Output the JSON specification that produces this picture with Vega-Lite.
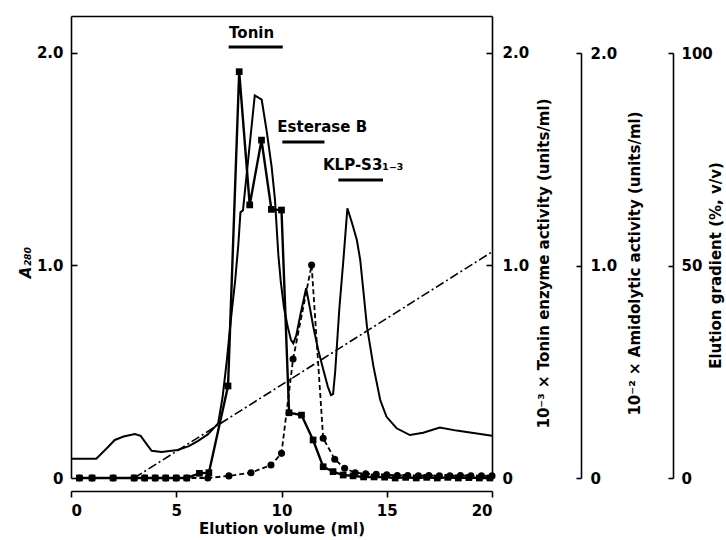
{
  "$schema": "https://vega.github.io/schema/vega-lite/v6.json",
  "width": 421,
  "height": 462,
  "autosize": "none",
  "padding": {"left": 71, "top": 16, "right": 234, "bottom": 62},
  "background": "white",
  "config": {
    "view": {"stroke": null},
    "font": "DejaVu Sans",
    "axis": {
      "grid": false,
      "domainColor": "black",
      "domainWidth": 1.6,
      "tickColor": "black",
      "tickWidth": 1.6,
      "labelColor": "black",
      "titleColor": "black",
      "labelFont": "DejaVu Sans",
      "titleFont": "DejaVu Sans",
      "labelFontSize": 15,
      "titleFontSize": 15,
      "labelFontWeight": "bold",
      "titleFontWeight": "bold"
    }
  },
  "datasets": {
    "a280": [
      {"v": 0, "a": 0.091}, {"v": 1.2, "a": 0.091}, {"v": 1.45, "a": 0.115}, {"v": 1.76, "a": 0.146},
      {"v": 2.08, "a": 0.179}, {"v": 2.5, "a": 0.195}, {"v": 3.03, "a": 0.207}, {"v": 3.31, "a": 0.198},
      {"v": 3.55, "a": 0.165}, {"v": 3.83, "a": 0.128}, {"v": 4.3, "a": 0.122}, {"v": 5.07, "a": 0.132},
      {"v": 5.6, "a": 0.15}, {"v": 6.02, "a": 0.174}, {"v": 6.5, "a": 0.205}, {"v": 6.99, "a": 0.257},
      {"v": 7.2, "a": 0.38}, {"v": 7.4, "a": 0.55}, {"v": 7.6, "a": 0.75}, {"v": 7.8, "a": 0.93},
      {"v": 7.95, "a": 1.1}, {"v": 8.05, "a": 1.25}, {"v": 8.17, "a": 1.26}, {"v": 8.45, "a": 1.53},
      {"v": 8.73, "a": 1.8}, {"v": 9.06, "a": 1.78}, {"v": 9.3, "a": 1.63}, {"v": 9.53, "a": 1.465},
      {"v": 9.69, "a": 1.31}, {"v": 9.85, "a": 1.05}, {"v": 9.97, "a": 0.92}, {"v": 10.12, "a": 0.8},
      {"v": 10.3, "a": 0.71}, {"v": 10.45, "a": 0.65}, {"v": 10.56, "a": 0.634}, {"v": 10.7, "a": 0.67},
      {"v": 10.9, "a": 0.77}, {"v": 11.17, "a": 0.893},
      {"v": 11.35, "a": 0.8}, {"v": 11.51, "a": 0.712}, {"v": 11.75, "a": 0.6}, {"v": 11.99, "a": 0.508},
      {"v": 12.2, "a": 0.43}, {"v": 12.35, "a": 0.39}, {"v": 12.45, "a": 0.395}, {"v": 12.55, "a": 0.5},
      {"v": 12.75, "a": 0.8}, {"v": 12.94, "a": 1.026}, {"v": 13.13, "a": 1.269}, {"v": 13.35, "a": 1.2},
      {"v": 13.58, "a": 1.12}, {"v": 13.74, "a": 1.026}, {"v": 13.9, "a": 0.87}, {"v": 14.06, "a": 0.712},
      {"v": 14.37, "a": 0.524}, {"v": 14.69, "a": 0.367}, {"v": 14.99, "a": 0.288}, {"v": 15.47, "a": 0.234},
      {"v": 16.1, "a": 0.202}, {"v": 16.73, "a": 0.213}, {"v": 17.52, "a": 0.237}, {"v": 18.32, "a": 0.223},
      {"v": 20, "a": 0.199}
    ],
    "tonin": [
      {"v": 0.4, "t": 0}, {"v": 1.0, "t": 0}, {"v": 2.0, "t": 0}, {"v": 3.0, "t": 0}, {"v": 3.5, "t": 0},
      {"v": 4.0, "t": 0}, {"v": 4.5, "t": 0}, {"v": 5.0, "t": 0}, {"v": 5.5, "t": 0}, {"v": 6.1, "t": 0.022},
      {"v": 6.55, "t": 0.025}, {"v": 7.46, "t": 0.433}, {"v": 7.99, "t": 1.912}, {"v": 8.49, "t": 1.285},
      {"v": 9.05, "t": 1.59}, {"v": 9.52, "t": 1.264}, {"v": 10.0, "t": 1.261}, {"v": 10.36, "t": 0.307},
      {"v": 10.95, "t": 0.296}, {"v": 11.5, "t": 0.179}, {"v": 11.98, "t": 0.053}, {"v": 12.45, "t": 0.03},
      {"v": 12.93, "t": 0.014}, {"v": 13.4, "t": 0.01}, {"v": 13.9, "t": 0.005}, {"v": 14.4, "t": 0.005},
      {"v": 14.9, "t": 0.004}, {"v": 15.4, "t": 0.0}, {"v": 15.9, "t": 0.003}, {"v": 16.4, "t": 0.0},
      {"v": 16.9, "t": 0.003}, {"v": 17.4, "t": 0.0}, {"v": 17.9, "t": 0.003}, {"v": 18.4, "t": 0.0},
      {"v": 18.9, "t": 0.002}, {"v": 19.4, "t": 0.0}, {"v": 19.9, "t": 0.0}
    ],
    "amido": [
      {"v": 0.4, "m": 0}, {"v": 1.0, "m": 0}, {"v": 2.0, "m": 0}, {"v": 3.0, "m": 0}, {"v": 3.5, "m": 0},
      {"v": 4.0, "m": 0}, {"v": 4.5, "m": 0}, {"v": 5.0, "m": 0}, {"v": 5.5, "m": 0}, {"v": 6.5, "m": 0},
      {"v": 7.5, "m": 0.01}, {"v": 8.55, "m": 0.025}, {"v": 9.5, "m": 0.061}, {"v": 10.0, "m": 0.116},
      {"v": 10.55, "m": 0.56}, {"v": 11.43, "m": 1.002}, {"v": 11.98, "m": 0.187}, {"v": 12.53, "m": 0.088},
      {"v": 13.0, "m": 0.046}, {"v": 13.5, "m": 0.025}, {"v": 14.0, "m": 0.02}, {"v": 14.5, "m": 0.018},
      {"v": 15.0, "m": 0.015}, {"v": 15.5, "m": 0.012}, {"v": 16.0, "m": 0.012}, {"v": 16.5, "m": 0.01},
      {"v": 17.0, "m": 0.012}, {"v": 17.5, "m": 0.01}, {"v": 18.0, "m": 0.01}, {"v": 18.5, "m": 0.012},
      {"v": 19.0, "m": 0.01}, {"v": 19.5, "m": 0.01}, {"v": 20.0, "m": 0.01}
    ],
    "gradient": [
      {"v": 3.0, "g": 0}, {"v": 20.0, "g": 53.2}
    ],
    "labels": [
      {"v": 7.51, "y": 2.069, "label": "Tonin"},
      {"v": 9.8, "y": 1.63, "label": "Esterase B"},
      {"v": 11.97, "y": 1.449, "label": "KLP-S3₁₋₃"}
    ],
    "bars": [
      {"v": 7.49, "v2": 10.06, "y": 2.028},
      {"v": 10.04, "v2": 12.04, "y": 1.581},
      {"v": 12.7, "v2": 14.82, "y": 1.402}
    ]
  },
  "layer": [
    {
      "data": {"name": "a280"},
      "mark": {"type": "line", "color": "black", "strokeWidth": 2},
      "encoding": {
        "x": {
          "field": "v", "type": "quantitative",
          "scale": {"domain": [0, 20], "nice": false},
          "axis": {
            "orient": "bottom", "offset": 13, "values": [0, 5, 10, 15, 20],
            "tickSize": 6, "labelPadding": 6, "title": "Elution volume (ml)", "titlePadding": 3
          }
        },
        "y": {
          "field": "a", "type": "quantitative",
          "scale": {"domain": [0, 2.174], "nice": false},
          "axis": {
            "orient": "left", "values": [0, 1, 2], "tickSize": -6, "labelPadding": 14,
            "labelExpr": "datum.value == 0 ? '0' : format(datum.value, '.1f')",
            "title": "A₂₈₀", "titleFontStyle": "italic", "titleAngle": 270,
            "titleX": -46, "titleY": 246, "titleAlign": "center", "titleBaseline": "middle"
          }
        }
      }
    },
    {
      "data": {"name": "tonin"},
      "mark": {"type": "line", "color": "black", "strokeWidth": 2.4,
               "point": {"shape": "square", "filled": true, "size": 45, "color": "black"}},
      "encoding": {
        "x": {
          "field": "v", "type": "quantitative",
          "axis": {"orient": "top", "labels": false, "ticks": false, "title": null, "domain": true}
        },
        "y": {
          "field": "t", "type": "quantitative",
          "scale": {"domain": [0, 2.174], "nice": false},
          "axis": {
            "orient": "right", "values": [0, 1, 2], "tickSize": -6, "labelPadding": 16,
            "labelExpr": "datum.value == 0 ? '0' : format(datum.value, '.1f')",
            "title": "10⁻³ × Tonin enzyme activity (units/ml)", "titleAngle": 270,
            "titleX": 51, "titleY": 247, "titleAlign": "center", "titleBaseline": "middle"
          }
        }
      }
    },
    {
      "data": {"name": "amido"},
      "mark": {"type": "line", "color": "black", "strokeWidth": 1.8, "strokeDash": [5, 3],
               "point": {"shape": "circle", "filled": true, "size": 50, "color": "black"}},
      "encoding": {
        "x": {"field": "v", "type": "quantitative", "axis": null},
        "y": {
          "field": "m", "type": "quantitative",
          "scale": {"domain": [0, 2], "range": [462, 37], "nice": false},
          "axis": {
            "orient": "right", "offset": 89, "values": [0, 1, 2], "tickSize": -5, "labelPadding": 14,
            "labelExpr": "datum.value == 0 ? '0' : format(datum.value, '.1f')",
            "title": "10⁻² × Amidolytic activity (units/ml)", "titleAngle": 270,
            "titleX": 53, "titleY": 247, "titleAlign": "center", "titleBaseline": "middle"
          }
        }
      }
    },
    {
      "data": {"name": "gradient"},
      "mark": {"type": "line", "color": "black", "strokeWidth": 1.6, "strokeDash": [9, 3, 2, 3]},
      "encoding": {
        "x": {"field": "v", "type": "quantitative", "axis": null},
        "y": {
          "field": "g", "type": "quantitative",
          "scale": {"domain": [0, 100], "range": [462, 37], "nice": false},
          "axis": {
            "orient": "right", "offset": 181, "values": [0, 50, 100], "tickSize": -5, "labelPadding": 13,
            "format": "d",
            "title": "Elution gradient (%, v/v)", "titleAngle": 270,
            "titleX": 42, "titleY": 249, "titleAlign": "center", "titleBaseline": "middle"
          }
        }
      }
    },
    {
      "data": {"name": "bars"},
      "mark": {"type": "rule", "color": "black", "strokeWidth": 3},
      "encoding": {
        "x": {"field": "v", "type": "quantitative", "axis": null},
        "x2": {"field": "v2"},
        "y": {"field": "y", "type": "quantitative", "scale": {"domain": [0, 2.174], "nice": false}, "axis": null}
      }
    },
    {
      "data": {"name": "labels"},
      "mark": {"type": "text", "color": "black", "font": "DejaVu Sans", "fontWeight": "bold",
               "fontSize": 15, "align": "left", "baseline": "alphabetic"},
      "encoding": {
        "x": {"field": "v", "type": "quantitative", "axis": null},
        "y": {"field": "y", "type": "quantitative", "scale": {"domain": [0, 2.174], "nice": false}, "axis": null},
        "text": {"field": "label"}
      }
    }
  ],
  "resolve": {"scale": {"y": "independent"}, "axis": {"x": "independent"}}
}
